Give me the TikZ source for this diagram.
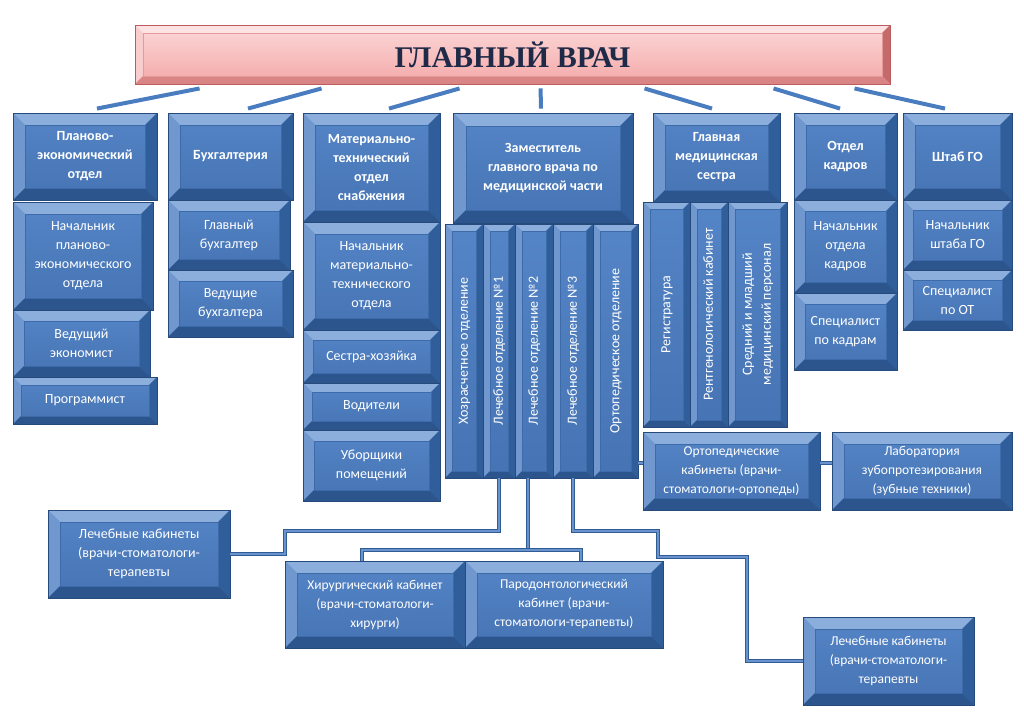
\documentclass[tikz,border=0pt]{standalone}
\usepackage{fontspec}
\setmainfont{Carlito}
\newfontfamily\titlefont{Liberation Serif}
\usetikzlibrary{calc}
\definecolor{bface}{HTML}{4C7BBD}
\definecolor{bfacetop}{HTML}{5485C6}
\definecolor{bfacebot}{HTML}{4673B4}
\definecolor{btop}{HTML}{8CAEDD}
\definecolor{bleft}{HTML}{7098CF}
\definecolor{bright}{HTML}{2F5E9A}
\definecolor{bbot}{HTML}{2B558C}
\definecolor{bout}{HTML}{264A7C}
\definecolor{bline}{HTML}{3D6AA8}
\definecolor{pfacetop}{HTML}{FCD8D8}
\definecolor{pfacebot}{HTML}{F4A8A8}
\definecolor{ptop}{HTML}{FDE3E3}
\definecolor{pleft}{HTML}{F9CDCD}
\definecolor{pright}{HTML}{C56A6A}
\definecolor{pbot}{HTML}{D98585}
\definecolor{pout}{HTML}{BD5C5C}
\definecolor{pline}{HTML}{E59A9A}
\definecolor{titlec}{HTML}{1E2A48}
\definecolor{hlinec}{HTML}{4A7DC0}
\definecolor{clinec}{HTML}{2F5C96}
\definecolor{clinein}{HTML}{6A93CC}
\newcommand\fnorm{\fontsize{14}{19}\selectfont}
\newcommand\fsmall{\fontsize{13.5}{19}\selectfont}
\newcommand\fbold{\fontsize{14}{19}\selectfont\bfseries}
\tikzset{
  bev/.code={\def\bvl{#1pt}\def\bvt{#1pt}\def\bvr{#1pt}\def\bvb{#1pt}},
  bev=11,
  bevcols/.code={\def\cT{#1}},
  bx/.style={rectangle, inner sep=1pt, top color=bfacetop, bottom color=bfacebot,
    draw=bout, line width=0.9pt, text=white, font=\fnorm, align=center,
    path picture={
      \path (path picture bounding box.north west) coordinate (bbnw)
            (path picture bounding box.north east) coordinate (bbne)
            (path picture bounding box.south west) coordinate (bbsw)
            (path picture bounding box.south east) coordinate (bbse);
      \fill[fill=\cT top] (bbnw) -- (bbne) -- ([shift={(-\bvr,-\bvt)}]bbne) -- ([shift={(\bvl,-\bvt)}]bbnw) -- cycle;
      \fill[fill=\cT left] (bbnw) -- ([shift={(\bvl,-\bvt)}]bbnw) -- ([shift={(\bvl,\bvb)}]bbsw) -- (bbsw) -- cycle;
      \fill[fill=\cT right] (bbne) -- (bbse) -- ([shift={(-\bvr,\bvb)}]bbse) -- ([shift={(-\bvr,-\bvt)}]bbne) -- cycle;
      \fill[fill=\cT bot] (bbsw) -- ([shift={(\bvl,\bvb)}]bbsw) -- ([shift={(-\bvr,\bvb)}]bbse) -- (bbse) -- cycle;
      \draw[draw=\cT line, line width=0.6pt] ([shift={(\bvl,-\bvt)}]bbnw) rectangle ([shift={(-\bvr,\bvb)}]bbse);
    }},
  bevcols=b,
  hd/.style={font=\fbold},
  sm/.style={font=\fsmall},
  pinkbox/.style={bevcols=p, top color=pfacetop, bottom color=pfacebot, draw=pout, text=titlec},
  hline/.style={draw=hlinec, line width=4pt},
  cline/.style={draw=clinec, line width=0.9pt, double=clinein, double distance=1.3pt},
}
% #1 options, #2 name, #3 x1, #4 y1, #5 x2, #6 y2, #7 text
\newcommand\bbox[7][]{%
  \pgfmathsetmacro\bbw{#5-#3}%
  \pgfmathsetmacro\bbh{#6-#4}%
  \node[bx,minimum width=\bbw pt,minimum height=\bbh pt,#1] (#2) at ({(#3+#5)/2},{(#4+#6)/2}) {#7};}
\newcommand\vtext[1]{\rotatebox{90}{\begin{tabular}{@{}c@{}}#1\end{tabular}}}
\begin{document}
\begin{tikzpicture}[x=1pt,y=-1pt]
\useasboundingbox[fill=white] (0,0) rectangle (1024,724);

% header
\bbox[pinkbox,bev=8]{hdr}{135}{25}{890}{84}{\raisebox{-2pt}{\titlefont\fontsize{30}{34}\selectfont\bfseries ГЛАВНЫЙ ВРАЧ}}

% column 1
\bbox[hd,bev=12]{p1}{13}{113}{157}{200}{Планово-\\экономический\\отдел}
\bbox[bev=12]{p2}{13}{202}{153}{310}{Начальник\\планово-\\экономического\\отдела}
\bbox[bev=11]{p3}{13}{310}{150}{377}{Ведущий\\экономист}
\bbox[bev=8]{p4}{13}{377}{157}{424}{Программист}

% column 2
\bbox[hd,bev=12]{b1}{168}{113}{293}{200}{Бухгалтерия}
\bbox[bev=11]{b2}{168}{200}{290}{270}{Главный\\бухгалтер}
\bbox[bev=11]{b3}{168}{270}{293}{337}{Ведущие\\бухгалтера}

% column 3
\bbox[hd,bev=12]{m1}{303}{113}{440}{222}{Материально-\\технический\\отдел\\снабжения}
\bbox[bev=12]{m2}{303}{222}{440}{330}{Начальник\\материально-\\технического\\отдела}
\bbox[bev=10]{m3}{303}{330}{440}{383}{Сестра-хозяйка}
\bbox[bev=9]{m4}{303}{383}{440}{430}{Водители}
\bbox[bev=11]{m5}{303}{430}{440}{501}{Уборщики\\помещений}

% column 4
\bbox[hd,bev=13]{z0}{453}{113}{633}{223}{Заместитель\\главного врача по\\медицинской части}
\bbox[bev=7]{z1}{445}{224}{483}{478}{\vtext{Хозрасчетное отделение}}
\bbox[bev=7]{z2}{483}{224}{515}{478}{\vtext{Лечебное отделение №1}}
\bbox[bev=7]{z3}{515}{224}{553}{478}{\vtext{Лечебное отделение №2}}
\bbox[bev=7]{z4}{553}{224}{593}{478}{\vtext{Лечебное отделение №3}}
\bbox[bev=7]{z5}{593}{224}{638}{478}{\vtext{Ортопедическое отделение}}

% column 5
\bbox[hd,bev=12]{n0}{653}{113}{780}{202}{Главная\\медицинская\\сестра}
\bbox[bev=7]{n1}{643}{202}{690}{427}{\vtext{Регистратура}}
\bbox[bev=7]{n2}{690}{202}{728}{427}{\vtext{Рентгенологический кабинет}}
\bbox[bev=7]{n3}{728}{202}{787}{427}{\vtext{Средний и младший\\медицинский персонал}}

% column 6
\bbox[hd,bev=12]{k0}{794}{113}{897}{200}{Отдел\\кадров}
\bbox[bev=11]{k1}{794}{200}{897}{293}{Начальник\\отдела\\кадров}
\bbox[bev=11]{k2}{794}{293}{897}{370}{Специалист\\по кадрам}

% column 7
\bbox[hd,bev=12]{g0}{903}{113}{1012}{200}{Штаб ГО}
\bbox[bev=10]{g1}{903}{200}{1012}{270}{Начальник\\штаба ГО}
\bbox[bev=10]{g2}{903}{270}{1012}{330}{Специалист\\по ОТ}

% orthopedic row
\bbox[sm,bev=12]{o1}{643}{432}{820}{510}{Ортопедические\\кабинеты (врачи-\\стоматологи-ортопеды)}
\bbox[sm,bev=12]{o2}{832}{432}{1012}{510}{Лаборатория\\зубопротезирования\\(зубные техники)}

% bottom
\bbox[bev=12]{l1}{48}{510}{230}{598}{Лечебные кабинеты\\(врачи-стоматологи-\\терапевты}
\bbox[sm,bev=12]{h1}{285}{561}{465}{648}{Хирургический кабинет\\(врачи-стоматологи-\\хирурги)}
\bbox[sm,bev=12]{h2}{465}{561}{663}{648}{Пародонтологический\\кабинет (врачи-\\стоматологи-терапевты)}
\bbox[sm,bev=12]{l2}{803}{617}{974}{705}{Лечебные кабинеты\\(врачи-стоматологи-\\терапевты}

% header connectors
\draw[hline] ([shift={(65pt,-4pt)}]hdr.south west) -- ([shift={(12pt,4pt)}]p1.north);
\draw[hline] ([shift={(187pt,-4pt)}]hdr.south west) -- ([shift={(17.5pt,4pt)}]b1.north);
\draw[hline] ([shift={(325pt,-4pt)}]hdr.south west) -- ([shift={(17.5pt,4pt)}]m1.north);
\draw[hline] ([shift={(406pt,-4pt)}]hdr.south west) -- ([shift={(-2pt,4pt)}]z0.north);
\draw[hline] ([shift={(510pt,-4pt)}]hdr.south west) -- ([shift={(-4.5pt,4pt)}]n0.north);
\draw[hline] ([shift={(639pt,-4pt)}]hdr.south west) -- ([shift={(-5.5pt,4pt)}]k0.north);
\draw[hline] ([shift={(720pt,-4pt)}]hdr.south west) -- ([shift={(-12.5pt,4pt)}]g0.north);

% lower connectors
\coordinate (jA) at (285,531);
\draw[cline] (z2.south) |- (jA) |- (l1.east);
\coordinate (jB) at (528,550);
\coordinate (jB1) at (362,550);
\coordinate (jB2) at (581,550);
\draw[cline] (z3.south -| jB) -- (jB);
\draw[cline] (h1.north -| jB1) -- (jB1) -- (jB2) -- (h2.north -| jB2);
\coordinate (jC1) at (658,531);
\coordinate (jC2) at (747,557);
\draw[cline] (z4.south) |- (jC1) |- (jC2) |- (l2.west);
\coordinate (jD) at (640,463);
\draw[cline] (z5.east |- jD) -- (o1.west |- jD);
\draw[cline] (o1.east |- jD) -- (o2.west |- jD);
\end{tikzpicture}
\end{document}
